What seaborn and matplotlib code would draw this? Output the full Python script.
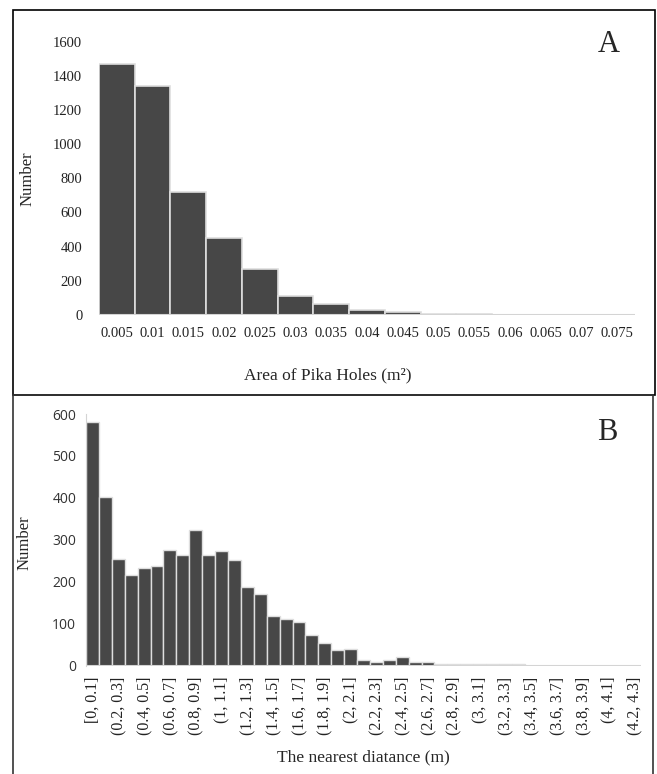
import pandas as pd
import numpy as np
import seaborn as sns
import matplotlib.pyplot as plt
from matplotlib.patches import Rectangle

# panel A - area of pika holes
area_bins = ['0.005', '0.01', '0.015', '0.02', '0.025', '0.03', '0.035', '0.04',
             '0.045', '0.05', '0.055', '0.06', '0.065', '0.07', '0.075']
area_counts = [1470, 1344, 718, 448, 266, 108, 63, 27, 14, 5, 2, 1, 1, 1, 1]

# panel B - nearest distance between holes
dist_bins = ['[0, 0.1]', '(0.1, 0.2]', '(0.2, 0.3]', '(0.3, 0.4]', '(0.4, 0.5]',
             '(0.5, 0.6]', '(0.6, 0.7]', '(0.7, 0.8]', '(0.8, 0.9]', '(0.9, 1]',
             '(1, 1.1]', '(1.1, 1.2]', '(1.2, 1.3]', '(1.3, 1.4]', '(1.4, 1.5]',
             '(1.5, 1.6]', '(1.6, 1.7]', '(1.7, 1.8]', '(1.8, 1.9]', '(1.9, 2]',
             '(2, 2.1]', '(2.1, 2.2]', '(2.2, 2.3]', '(2.3, 2.4]', '(2.4, 2.5]',
             '(2.5, 2.6]', '(2.6, 2.7]', '(2.7, 2.8]', '(2.8, 2.9]', '(2.9, 3]',
             '(3, 3.1]', '(3.1, 3.2]', '(3.2, 3.3]', '(3.3, 3.4]', '(3.4, 3.5]',
             '(3.5, 3.6]', '(3.6, 3.7]', '(3.7, 3.8]', '(3.8, 3.9]', '(3.9, 4]',
             '(4, 4.1]', '(4.1, 4.2]', '(4.2, 4.3]']
dist_counts = [580, 401, 254, 217, 232, 237, 275, 263, 323, 265,
               273, 251, 187, 172, 118, 111, 103, 73, 54, 37,
               40, 14, 8, 14, 21, 10, 9, 3, 5, 3,
               5, 3, 3, 3, 0, 0, 0, 0, 0, 0,
               0, 0, 0]

sns.set_style('white')
plt.rcParams['font.family'] = ['Liberation Serif', 'DejaVu Serif']

bar_color = '#474747'
edge_color = '#dedede'
axis_color = '#d4d4d4'

W, H = 657, 774
fig = plt.figure(figsize=(W / 100, H / 100), dpi=100)

def box(x0, y0, x1, y1):
    # rectangle given in pixel coords (top-left origin)
    return [x0 / W, 1 - y1 / H, (x1 - x0) / W, (y1 - y0) / H]

# panel frames
fig.patches.append(Rectangle((12.5 / W, 1 - 395 / H), (655 - 12.5) / W, (395 - 10) / H,
                             transform=fig.transFigure, fill=False, ec='black', lw=1.2))
fig.patches.append(Rectangle((12.5 / W, -0.01), (653 - 12.5) / W, 1 - 395 / H + 0.01,
                             transform=fig.transFigure, fill=False, ec='#333333', lw=1.2))

# ---------- Panel A ----------
dfa = pd.DataFrame({'Area': area_bins, 'Number': area_counts})
ax1 = fig.add_axes(box(99, 42, 635, 314.7))
sns.barplot(data=dfa, x='Area', y='Number', color=bar_color, width=1.0,
            edgecolor=edge_color, linewidth=1.2, saturation=1, ax=ax1)
ax1.set_ylim(0, 1600)
ax1.set_xlim(-0.5, len(area_bins) - 0.5)
ax1.set_yticks(np.arange(0, 1601, 200))
sns.despine(ax=ax1, left=True, bottom=True)
ax1.axhline(0, color=axis_color, lw=1.5, zorder=5)
ax1.tick_params(axis='y', labelsize=10.5, pad=12, length=0, colors='#222222')
ax1.tick_params(axis='x', labelsize=10.5, pad=9, length=0, colors='#222222')
ax1.set_xlabel('')
ax1.set_ylabel('Number', fontsize=12)
ax1.yaxis.set_label_coords(-0.119, 0.5)
fig.text(328 / W, 1 - 375 / H, 'Area of Pika Holes (m²)', ha='center', va='center', fontsize=12.5)
fig.text(609 / W, 1 - 45 / H, 'A', ha='center', va='center', fontsize=22)

# ---------- Panel B ----------
dfb = pd.DataFrame({'Distance': dist_bins, 'Number': dist_counts})
ax2 = fig.add_axes(box(86, 414, 641, 665.7))
sns.barplot(data=dfb, x='Distance', y='Number', color=bar_color, width=1.0,
            edgecolor=edge_color, linewidth=1.0, saturation=1, ax=ax2)
ax2.set_ylim(0, 600)
ax2.set_xlim(-0.5, len(dist_bins) - 0.5)
ax2.set_yticks(np.arange(0, 601, 100))
ax2.set_xticks(range(0, len(dist_bins), 2))
ax2.set_xticklabels(dist_bins[::2], rotation=90)
sns.despine(ax=ax2, bottom=True)
ax2.spines['left'].set_color(axis_color)
ax2.spines['left'].set_bounds(0, 600)
ax2.axhline(0, color=axis_color, lw=1.5, zorder=5)
ax2.tick_params(axis='y', labelsize=10, pad=7, length=0, colors='#333333')
for lab in ax2.get_yticklabels():
    lab.set_fontfamily(['Open Sans', 'DejaVu Sans'])
ax2.tick_params(axis='x', labelsize=11.5, pad=8, length=0, colors='#222222')
ax2.set_xlabel('')
ax2.set_ylabel('Number', fontsize=12)
ax2.yaxis.set_label_coords(-0.0955, 0.49)
fig.text(363 / W, 1 - 757 / H, 'The nearest diatance (m)', ha='center', va='center', fontsize=12.5)
fig.text(607 / W, 1 - 432 / H, 'B', ha='center', va='center', fontsize=22)

fig.savefig('out.png', dpi=100)
